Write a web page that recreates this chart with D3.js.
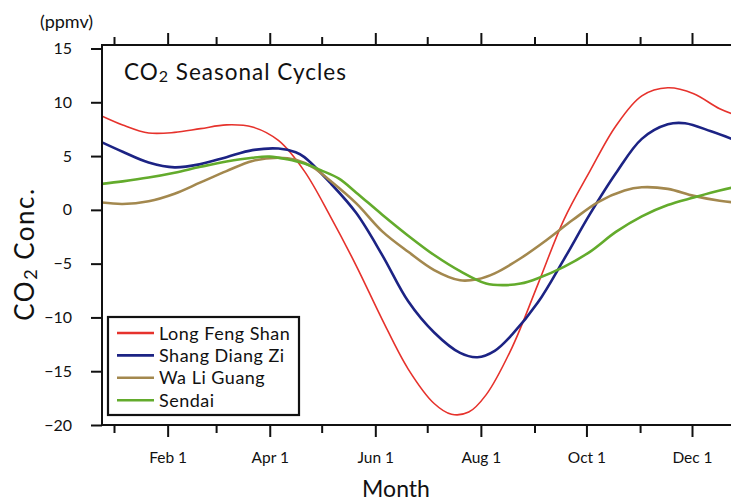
<!DOCTYPE html>
<html>
<head>
<meta charset="utf-8">
<script src="https://cdn.jsdelivr.net/npm/d3@7"></script>
<style>
  html, body { margin: 0; padding: 0; background: #fff; }
  svg { display: block; }
  text { font-family: Lato, "Open Sans", sans-serif; fill: #111; }
</style>
</head>
<body>
<svg id="chart" width="731" height="502"></svg>
<script>
// Day of year (0 = Jan 1) and CO2 anomaly (ppmv) for each station
const longFengShan = [[-8,8.8],[5,7.9],[20,7.15],[35,7.2],[50,7.55],[65,7.9],[80,7.7],[95,6.45],[110,3.6],[125,-0.6],[140,-5.2],[155,-10.2],[170,-14.8],[185,-18.0],[195,-19.0],[205,-18.8],[215,-17.2],[230,-12.8],[245,-6.9],[260,-0.9],[275,3.6],[290,7.8],[305,10.6],[320,11.35],[335,10.8],[350,9.4],[365,8.5],[372,8.2]];
const shangDiangZi = [[-8,6.35],[5,5.4],[20,4.4],[35,3.95],[50,4.25],[65,4.9],[80,5.55],[95,5.7],[105,5.35],[110,4.9],[125,2.5],[140,-0.3],[155,-4.2],[170,-8.5],[185,-11.4],[200,-13.3],[210,-13.7],[220,-13.1],[230,-11.6],[245,-8.6],[260,-4.6],[275,-0.4],[290,3.4],[305,6.6],[320,7.95],[330,8.05],[345,7.3],[360,6.4],[372,5.6]];
const waLiGuang = [[-8,0.7],[5,0.55],[20,0.8],[35,1.5],[50,2.55],[65,3.6],[80,4.55],[95,4.85],[105,4.65],[115,3.95],[125,2.7],[140,0.6],[155,-2.0],[170,-3.9],[185,-5.6],[200,-6.55],[210,-6.45],[220,-5.9],[235,-4.5],[250,-2.8],[265,-0.95],[280,0.75],[295,1.8],[305,2.1],[320,1.95],[335,1.3],[350,0.85],[365,0.6],[372,0.6]];
const sendai = [[-8,2.4],[5,2.65],[20,3.0],[35,3.45],[50,4.0],[65,4.5],[80,4.85],[90,4.95],[100,4.7],[110,4.3],[120,3.65],[130,2.9],[140,1.6],[155,-0.45],[170,-2.4],[185,-4.2],[200,-5.7],[215,-6.85],[225,-7.0],[235,-6.85],[245,-6.35],[260,-5.3],[275,-3.9],[290,-2.05],[305,-0.6],[320,0.45],[335,1.15],[350,1.8],[365,2.3],[372,2.45]];

const seriesNames = ["Long Feng Shan", "Shang Diang Zi", "Wa Li Guang", "Sendai"];
const seriesData = [longFengShan, shangDiangZi, waLiGuang, sendai];
const seriesColors = ["#e6322c", "#1c2384", "#a3884e", "#63ab2c"];
const seriesWidths = [1.6, 2.6, 2.6, 2.6];

// First day of each month; labels on alternating months
const monthStarts = [0, 31, 59, 90, 120, 151, 181, 212, 243, 273, 304, 334];
const monthLabels = {31: "Feb 1", 90: "Apr 1", 151: "Jun 1", 212: "Aug 1", 273: "Oct 1", 334: "Dec 1"};
const yTicks = [-20, -15, -10, -5, 0, 5, 10, 15];

const svg = d3.select("#chart");
const plotLeft = 102, plotTop = 45, plotBottom = 425, plotRight = 780;

const x = d3.scaleLinear().domain([0, 334]).range([114, 692]);
const y = d3.scaleLinear().domain([-20, 15]).range([425, 48.5]);

svg.append("defs").append("clipPath").attr("id", "plotClip")
  .append("rect").attr("x", plotLeft).attr("y", plotTop)
  .attr("width", plotRight - plotLeft).attr("height", plotBottom - plotTop);

// Curves
const line = d3.line()
  .x(d => x(d[0])).y(d => y(d[1]))
  .curve(d3.curveCatmullRom.alpha(0.5));

const curves = svg.append("g").attr("clip-path", "url(#plotClip)");
seriesData.forEach((s, i) => {
  curves.append("path")
    .attr("d", line(s))
    .attr("fill", "none")
    .attr("stroke", seriesColors[i])
    .attr("stroke-width", seriesWidths[i])
    .attr("stroke-linejoin", "round");
});

// Frame
svg.append("rect")
  .attr("x", plotLeft).attr("y", plotTop)
  .attr("width", plotRight - plotLeft).attr("height", plotBottom - plotTop)
  .attr("fill", "none").attr("stroke", "#111").attr("stroke-width", 2);

// Bottom axis: long ticks at labelled months, short ticks between
const xAxisB = svg.append("g").attr("transform", `translate(0,${plotBottom})`)
  .call(d3.axisBottom(x).tickValues(monthStarts).tickSize(0).tickFormat(d => monthLabels[d] || ""));
xAxisB.select(".domain").remove();
xAxisB.selectAll(".tick line")
  .attr("y2", d => monthLabels[d] ? 12 : 8)
  .attr("stroke", "#111").attr("stroke-width", 2);
xAxisB.selectAll(".tick text")
  .attr("y", 38).attr("dy", 0)
  .style("font-size", "15.5px").style("font-family", "Lato, sans-serif").attr("fill", "#111");

// Top axis ticks (outward, no labels)
const xAxisT = svg.append("g").attr("transform", `translate(0,${plotTop})`)
  .call(d3.axisTop(x).tickValues(monthStarts).tickSize(0).tickFormat(""));
xAxisT.select(".domain").remove();
xAxisT.selectAll(".tick line")
  .attr("y2", d => monthLabels[d] ? -12 : -8)
  .attr("stroke", "#111").attr("stroke-width", 2);

// Left axis
const yAxis = svg.append("g").attr("transform", `translate(${plotLeft},0)`)
  .call(d3.axisLeft(y).tickValues(yTicks).tickSize(11).tickPadding(19));
yAxis.select(".domain").remove();
yAxis.selectAll(".tick line").attr("stroke", "#111").attr("stroke-width", 2);
yAxis.selectAll(".tick text")
  .style("font-size", "16px").style("font-family", "Lato, sans-serif").attr("fill", "#111");

// Units
svg.append("text").attr("x", 40).attr("y", 28)
  .style("font-size", "18px").text("(ppmv)");

// Title
const title = svg.append("text").attr("x", 124).attr("y", 80)
  .style("font-size", "22.5px").style("letter-spacing", "1px");
title.append("tspan").text("CO");
title.append("tspan").attr("dy", 2).style("font-size", "16px").text("2");
title.append("tspan").attr("dy", -2).text(" Seasonal Cycles");

// Axis titles
svg.append("text").attr("x", 396).attr("y", 497).attr("text-anchor", "middle")
  .style("font-size", "23px").text("Month");

const yl = svg.append("text")
  .attr("transform", "translate(34,254) rotate(-90)")
  .attr("text-anchor", "middle")
  .style("font-size", "26px").style("letter-spacing", "1.5px");
yl.append("tspan").text("CO");
yl.append("tspan").attr("dy", 3).style("font-size", "18px").text("2");
yl.append("tspan").attr("dy", -3).text(" Conc.");

// Legend
const legend = svg.append("g");
legend.append("rect").attr("x", 108).attr("y", 317).attr("width", 191).attr("height", 98)
  .attr("fill", "#fff").attr("stroke", "#111").attr("stroke-width", 2.2);
seriesNames.forEach((name, i) => {
  const ly = 333 + i * 22.4;
  legend.append("line").attr("x1", 117).attr("x2", 154).attr("y1", ly).attr("y2", ly)
    .attr("stroke", seriesColors[i]).attr("stroke-width", 2.6);
  legend.append("text").attr("x", 159).attr("y", ly + 6.5)
    .style("font-size", "18px").style("letter-spacing", "0.5px").text(name);
});
</script>
</body>
</html>
